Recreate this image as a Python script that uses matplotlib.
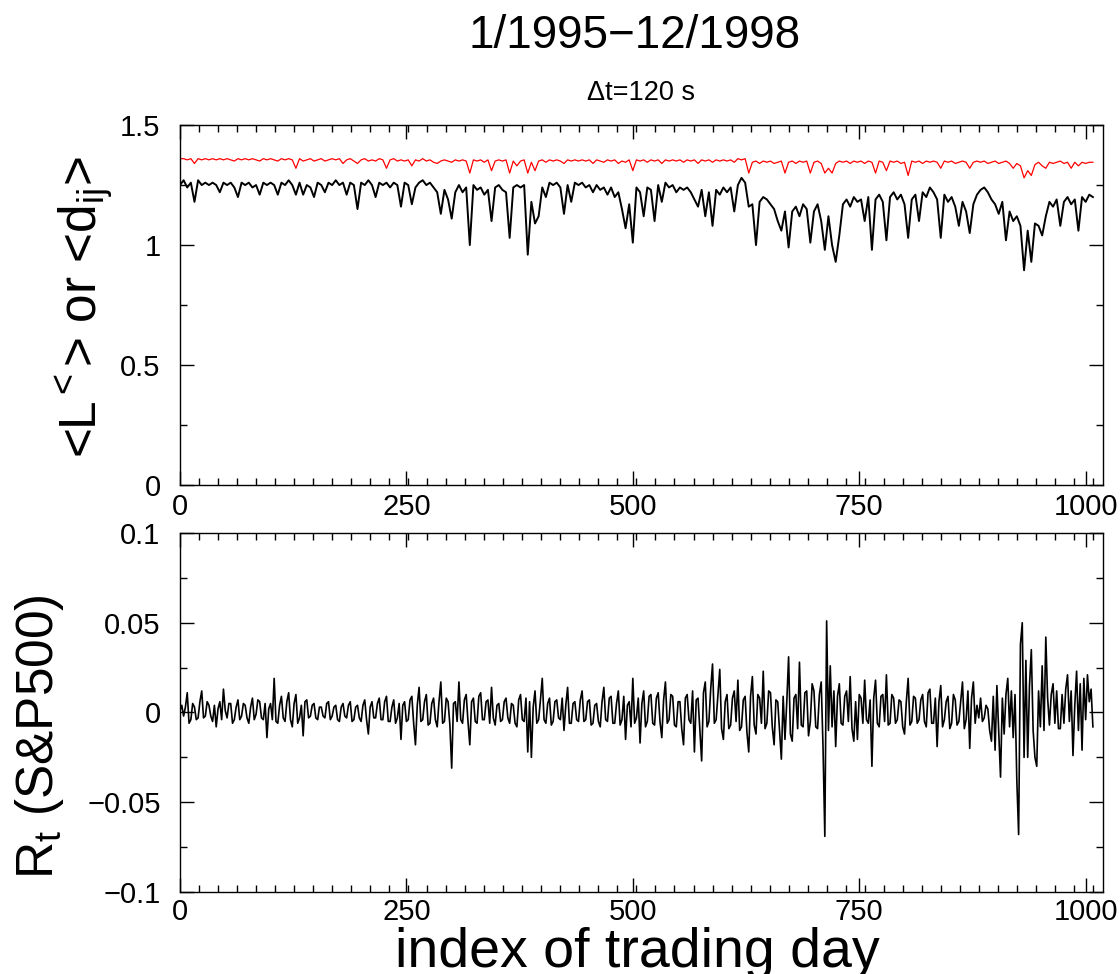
import matplotlib
matplotlib.use("Agg")
import matplotlib.pyplot as plt  # Affichage des graphiques
import numpy as np  # Calculs sur tableaux
from matplotlib.ticker import MultipleLocator, FuncFormatter

# Police proche de Helvetica (Grace)
plt.rcParams['font.family'] = ['Liberation Sans', 'DejaVu Sans']
plt.rcParams['mathtext.fontset'] = 'custom'
plt.rcParams['mathtext.rm'] = 'Liberation Sans'
plt.rcParams['mathtext.it'] = 'Liberation Sans'

# Valeurs lues sur la figure
# panneau du haut : un point tous les 4 jours de bourse (jours 0..1008)
pas_haut = 4
# panneau du bas : un point tous les 2 jours (jours 0..1008)
pas_bas = 2

# Courbe rouge : <L^<>
longueur_rouge = [
    1.36, 1.36, 1.355, 1.36, 1.34, 1.36, 1.355, 1.36, 1.355, 1.36, 1.355, 1.36, 1.355, 1.36, 1.355, 1.35, 1.36, 1.355, 1.36, 1.355, 1.36, 1.355, 1.35, 1.36, 1.355,
    1.36, 1.355, 1.35, 1.36, 1.355, 1.36, 1.355, 1.32, 1.36, 1.35, 1.355, 1.36, 1.35, 1.355, 1.36, 1.35, 1.355, 1.36, 1.355, 1.36, 1.34, 1.355, 1.36, 1.35, 1.34,
    1.355, 1.36, 1.35, 1.355, 1.35, 1.36, 1.355, 1.32, 1.355, 1.36, 1.35, 1.355, 1.35, 1.355, 1.33, 1.355, 1.35, 1.36, 1.35, 1.355, 1.345, 1.34, 1.35, 1.355, 1.35,
    1.345, 1.355, 1.35, 1.355, 1.35, 1.30, 1.355, 1.35, 1.355, 1.345, 1.355, 1.31, 1.35, 1.355, 1.35, 1.355, 1.30, 1.35, 1.33, 1.35, 1.355, 1.30, 1.345, 1.31, 1.35,
    1.355, 1.345, 1.355, 1.35, 1.355, 1.35, 1.34, 1.355, 1.35, 1.355, 1.35, 1.355, 1.35, 1.355, 1.34, 1.355, 1.35, 1.345, 1.355, 1.35, 1.355, 1.34, 1.35, 1.345, 1.355,
    1.31, 1.355, 1.35, 1.355, 1.345, 1.355, 1.35, 1.355, 1.34, 1.355, 1.35, 1.355, 1.35, 1.355, 1.345, 1.355, 1.35, 1.355, 1.34, 1.355, 1.35, 1.355, 1.345, 1.355, 1.35,
    1.355, 1.35, 1.355, 1.345, 1.36, 1.355, 1.36, 1.30, 1.345, 1.35, 1.34, 1.35, 1.345, 1.35, 1.34, 1.345, 1.35, 1.30, 1.345, 1.35, 1.34, 1.35, 1.345, 1.35, 1.30,
    1.345, 1.35, 1.34, 1.30, 1.32, 1.30, 1.34, 1.35, 1.345, 1.35, 1.34, 1.35, 1.345, 1.35, 1.34, 1.35, 1.345, 1.30, 1.35, 1.345, 1.31, 1.35, 1.345, 1.35, 1.34,
    1.345, 1.29, 1.35, 1.345, 1.35, 1.34, 1.35, 1.345, 1.35, 1.345, 1.32, 1.35, 1.345, 1.35, 1.34, 1.345, 1.35, 1.345, 1.32, 1.345, 1.35, 1.345, 1.35, 1.34, 1.345,
    1.35, 1.34, 1.345, 1.35, 1.34, 1.32, 1.34, 1.33, 1.28, 1.31, 1.29, 1.335, 1.345, 1.33, 1.32, 1.345, 1.34, 1.345, 1.35, 1.34, 1.345, 1.32, 1.345, 1.33, 1.345,
    1.34, 1.345, 1.345,
]

# Courbe noire : <d_ij>
distance_noire = [
    1.25, 1.27, 1.24, 1.26, 1.18, 1.27, 1.25, 1.26, 1.25, 1.26, 1.25, 1.22, 1.26, 1.25, 1.26, 1.24, 1.20, 1.26, 1.25, 1.26, 1.24, 1.25, 1.21, 1.26, 1.25,
    1.26, 1.25, 1.21, 1.26, 1.25, 1.27, 1.25, 1.21, 1.26, 1.21, 1.25, 1.24, 1.20, 1.26, 1.25, 1.22, 1.26, 1.25, 1.27, 1.25, 1.26, 1.21, 1.26, 1.25, 1.15,
    1.26, 1.25, 1.27, 1.25, 1.20, 1.26, 1.25, 1.26, 1.24, 1.26, 1.25, 1.16, 1.26, 1.25, 1.17, 1.24, 1.26, 1.27, 1.25, 1.26, 1.24, 1.22, 1.13, 1.23, 1.19,
    1.11, 1.22, 1.25, 1.22, 1.24, 1.00, 1.25, 1.23, 1.24, 1.21, 1.23, 1.10, 1.24, 1.25, 1.23, 1.22, 1.03, 1.24, 1.25, 1.24, 1.25, 0.96, 1.18, 1.09, 1.12,
    1.24, 1.20, 1.26, 1.25, 1.26, 1.24, 1.13, 1.25, 1.18, 1.26, 1.25, 1.26, 1.24, 1.25, 1.22, 1.25, 1.23, 1.24, 1.21, 1.24, 1.20, 1.22, 1.15, 1.07, 1.17,
    1.01, 1.24, 1.22, 1.12, 1.24, 1.23, 1.10, 1.25, 1.18, 1.26, 1.24, 1.25, 1.22, 1.24, 1.23, 1.24, 1.22, 1.19, 1.16, 1.23, 1.12, 1.22, 1.08, 1.23, 1.21,
    1.24, 1.22, 1.24, 1.14, 1.25, 1.28, 1.26, 1.16, 1.17, 1.00, 1.18, 1.20, 1.19, 1.17, 1.15, 1.10, 1.06, 1.14, 0.99, 1.14, 1.16, 1.12, 1.17, 1.15, 1.01,
    1.14, 1.17, 1.10, 0.98, 1.12, 1.00, 0.93, 1.04, 1.17, 1.19, 1.16, 1.20, 1.18, 1.19, 1.10, 1.20, 0.98, 1.19, 1.21, 1.18, 1.02, 1.20, 1.22, 1.19, 1.21,
    1.17, 1.03, 1.19, 1.21, 1.10, 1.22, 1.20, 1.24, 1.22, 1.19, 1.03, 1.21, 1.18, 1.20, 1.16, 1.08, 1.18, 1.14, 1.05, 1.17, 1.21, 1.23, 1.24, 1.22, 1.19,
    1.17, 1.13, 1.18, 1.02, 1.14, 1.10, 1.12, 1.08, 0.895, 1.06, 0.93, 1.09, 1.08, 1.04, 1.12, 1.18, 1.16, 1.19, 1.08, 1.18, 1.20, 1.17, 1.19, 1.06, 1.20,
    1.18, 1.21, 1.20,
]

# Rendement journalier du S&P500 (un point tous les 2 jours)
rendement_sp500 = [
    # jours 0-98
    0.001, 0.004, -0.002, 0.003, 0.011, -0.006, -0.004, 0.005, 0.003, -0.004, -0.003, 0.006, 0.012, -0.003, -0.002, 0.006, 0.004, -0.002, -0.005, 0.004, -0.008, 0.002, 0.006, -0.004, 0.013,
    0.001, -0.003, 0.005, 0.005, -0.006, -0.004, 0.003, 0.007, -0.004, -0.002, 0.005, 0.004, -0.003, -0.006, 0.003, 0.008, -0.004, -0.001, 0.007, 0.006, -0.003, -0.004, 0.005, -0.014, 0.002,
    # jours 100-198
    0.005, -0.004, 0.019, -0.005, -0.006, 0.004, 0.009, -0.003, -0.005, 0.006, 0.011, -0.004, -0.008, 0.005, 0.010, -0.006, -0.003, 0.004, -0.013, 0.006, 0.007, -0.003, -0.002, 0.004, 0.005,
    -0.003, -0.004, 0.003, 0.003, -0.002, -0.003, 0.005, 0.006, -0.004, -0.002, 0.003, 0.004, -0.004, -0.005, 0.003, 0.005, -0.002, -0.003, 0.004, 0.006, -0.005, -0.004, 0.003, 0.004, -0.003,
    # jours 200-298
    -0.005, 0.004, 0.007, -0.004, -0.012, 0.003, 0.006, -0.003, -0.003, 0.005, 0.008, -0.004, -0.004, 0.006, 0.009, -0.005, -0.005, 0.003, 0.007, -0.006, -0.003, 0.005, -0.015, 0.004, 0.006,
    -0.005, -0.004, 0.007, 0.009, -0.006, -0.018, 0.004, 0.014, -0.005, -0.004, 0.006, 0.010, -0.007, -0.006, 0.005, 0.008, -0.004, -0.008, 0.006, 0.017, -0.006, -0.005, 0.008, 0.006, -0.007,
    # jours 300-398
    -0.031, 0.005, 0.006, -0.005, 0.017, -0.004, -0.006, 0.007, 0.010, -0.005, -0.018, 0.006, 0.008, -0.005, -0.006, 0.009, 0.011, -0.004, -0.004, 0.006, 0.007, -0.006, 0.014, -0.003, -0.007,
    0.004, 0.005, -0.005, -0.004, 0.006, 0.008, -0.003, -0.006, 0.005, 0.004, -0.006, -0.008, 0.007, 0.010, -0.004, -0.005, 0.008, -0.022, 0.006, -0.025, 0.003, 0.012, -0.006, -0.004, 0.007,
    # jours 400-498
    0.019, -0.004, -0.006, 0.005, 0.008, -0.007, -0.005, 0.006, 0.007, -0.003, -0.004, 0.008, -0.010, 0.004, 0.014, -0.006, -0.006, 0.005, 0.006, -0.004, -0.005, 0.007, 0.012, -0.005, -0.004,
    0.006, 0.007, -0.007, -0.006, 0.004, 0.005, -0.005, -0.008, 0.006, 0.014, -0.004, -0.005, 0.008, 0.009, -0.006, -0.006, 0.005, 0.012, -0.007, -0.004, 0.009, -0.015, 0.004, 0.006, -0.008,
    # jours 500-598
    0.019, -0.006, -0.003, 0.008, -0.017, 0.005, 0.012, -0.008, -0.005, 0.009, 0.010, -0.006, -0.007, 0.008, 0.011, -0.005, -0.014, 0.007, 0.017, -0.006, -0.004, 0.010, 0.009, -0.007, -0.008,
    0.006, 0.006, -0.009, -0.018, 0.008, 0.010, -0.004, -0.006, 0.012, -0.022, 0.007, 0.008, -0.010, -0.027, 0.011, 0.017, -0.008, -0.005, 0.013, 0.027, -0.006, -0.004, 0.010, 0.024, -0.009,
    # jours 600-698
    -0.015, 0.006, 0.010, -0.009, -0.007, 0.008, 0.012, -0.005, 0.018, -0.010, -0.008, 0.007, 0.009, -0.011, -0.022, 0.009, 0.020, -0.007, -0.012, 0.010, 0.008, -0.006, 0.023, -0.009, -0.006,
    0.012, 0.011, -0.008, -0.018, 0.007, 0.006, -0.010, -0.026, 0.009, -0.015, 0.006, 0.031, -0.012, -0.016, 0.008, 0.010, -0.009, 0.028, -0.007, -0.008, 0.011, 0.012, -0.013, -0.005, 0.016,
    # jours 700-798
    0.012, -0.008, -0.009, 0.010, 0.017, -0.019, -0.069, 0.051, -0.010, 0.026, -0.008, 0.012, -0.019, 0.009, 0.016, -0.006, -0.007, 0.009, 0.012, -0.005, 0.020, -0.009, -0.016, 0.006, -0.015,
    0.010, 0.008, -0.006, 0.018, -0.004, -0.006, 0.007, -0.030, 0.008, 0.018, -0.006, -0.008, 0.009, 0.010, -0.005, 0.021, -0.007, -0.006, 0.010, 0.008, -0.006, -0.004, 0.007, 0.006, -0.008,
    # jours 800-898
    -0.012, 0.006, 0.019, -0.007, -0.005, 0.009, 0.008, -0.006, -0.004, 0.007, 0.010, -0.005, -0.008, 0.011, 0.013, -0.006, -0.006, 0.008, -0.019, 0.006, 0.015, -0.008, -0.004, 0.006, 0.009,
    -0.009, -0.006, 0.010, 0.007, -0.007, -0.005, 0.006, 0.017, -0.009, -0.004, 0.012, -0.020, 0.008, 0.017, -0.006, 0.004, -0.003, 0.008, -0.005, -0.003, 0.004, 0.002, -0.010, -0.016, 0.009,
    # jours 900-1008
    -0.021, 0.015, -0.010, -0.036, 0.008, -0.012, 0.010, 0.019, -0.008, 0.012, -0.014, 0.010, -0.038, -0.068, 0.038, 0.050, -0.025, 0.029, -0.025, 0.015, 0.035, -0.010, -0.025, -0.030, 0.012,
    -0.008, 0.026, -0.010, 0.042, 0.008, -0.007, 0.010, 0.016, -0.006, 0.012, -0.009, -0.009, 0.010, -0.006, 0.013, 0.021, -0.005, 0.012, -0.024, 0.004, 0.023, -0.010, 0.016, -0.021, 0.019,
    -0.004, 0.021, 0.006, 0.013, -0.008,
]

jours_haut = np.arange(len(distance_noire)) * pas_haut
jours_bas = np.arange(len(rendement_sp500)) * pas_bas

fig = plt.figure(figsize=(11.2, 9.74), dpi=100)

# Positions des deux panneaux (en fraction de figure)
ax_haut = fig.add_axes([0.1607, 0.502, 0.824, 0.3696])
ax_bas = fig.add_axes([0.1607, 0.0842, 0.824, 0.3686])

ax_haut.plot(jours_haut, longueur_rouge, color='red', lw=0.9)
ax_haut.plot(jours_haut, distance_noire, color='black', lw=1.4)
ax_bas.plot(jours_bas, rendement_sp500, color='black', lw=1.2)


def format_moins(v, pos):
    v = round(v, 6)
    if v == 0:
        return '0'
    return ('%g' % v).replace('-', '\u2212')


for ax in (ax_haut, ax_bas):
    ax.set_xlim(0, 1019)
    ax.xaxis.set_major_locator(MultipleLocator(250))
    ax.xaxis.set_minor_locator(MultipleLocator(21))
    ax.tick_params(which='both', direction='in', top=True, right=True, labelsize=21)
    ax.tick_params(which='major', length=10, width=1.0)
    ax.tick_params(which='minor', length=5, width=1.0)
    ax.tick_params(axis='x', pad=6)
    ax.tick_params(axis='y', pad=14)
    ax.yaxis.set_major_formatter(FuncFormatter(format_moins))
    for s in ax.spines.values():
        s.set_linewidth(1.0)

ax_bas.tick_params(axis='x', pad=4)

ax_haut.set_ylim(0, 1.5)
ax_haut.yaxis.set_major_locator(MultipleLocator(0.5))
ax_haut.yaxis.set_minor_locator(MultipleLocator(0.25))

ax_bas.set_ylim(-0.1, 0.1)
ax_bas.yaxis.set_major_locator(MultipleLocator(0.05))
ax_bas.yaxis.set_minor_locator(MultipleLocator(0.025))

# Titres et étiquettes
fig.text(0.567, 0.9507, '1/1995\u221212/1998', ha='center', va='baseline', fontsize=33)
fig.text(0.572, 0.897, '\u0394t=120 s', ha='center', va='baseline', fontsize=19.5)
fig.text(0.075, 1 - 307 / 974, r'<L$^{<}$> or <d$_{ij}$>', rotation=90,
         ha='center', va='center', fontsize=37)
fig.text(0.035, 1 - 737 / 974, r'R$_{t}$ (S&P500)', rotation=90,
         ha='center', va='center', fontsize=37)
fig.text(0.569, 0.0072, 'index of trading day', ha='center', va='baseline', fontsize=40)

fig.savefig('out.png', dpi=100)
